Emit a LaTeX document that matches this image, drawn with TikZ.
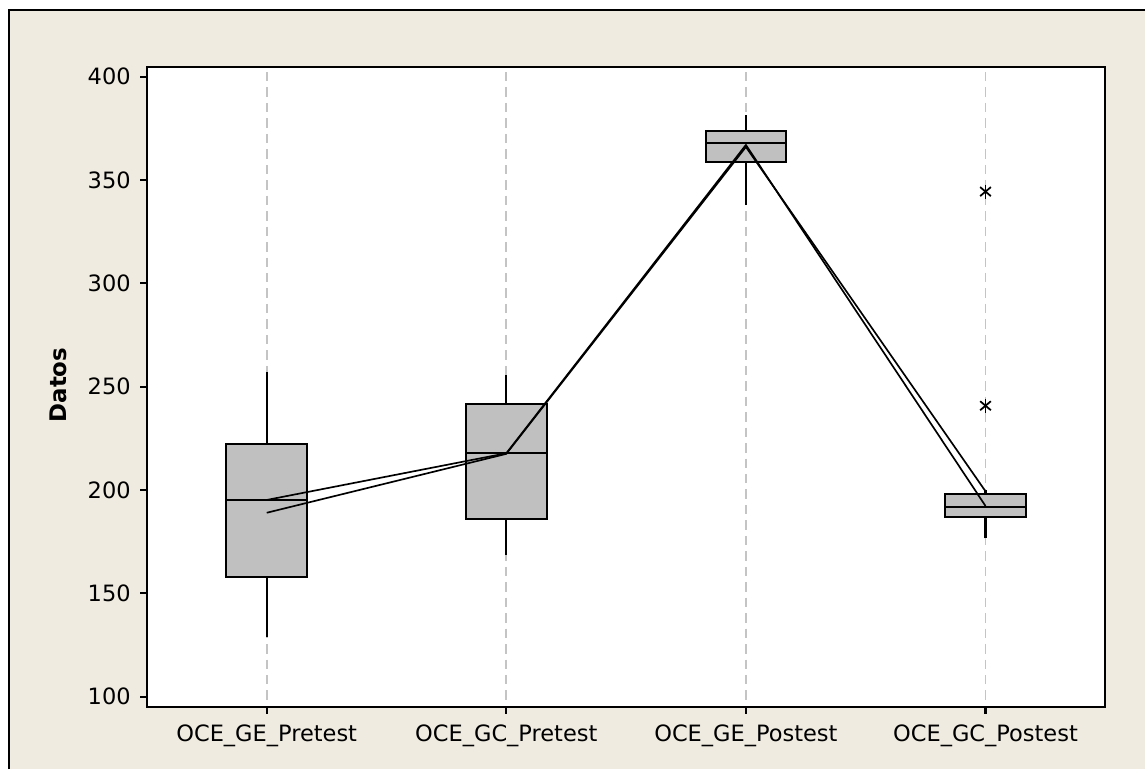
\documentclass[tikz,border=0pt]{standalone}
\usepackage{fontspec}
\setmainfont{DejaVu Sans}
\usepackage{xcolor}
\usepackage{tikz}
\usetikzlibrary{calc}
\definecolor{panel}{HTML}{EFEBE1}
\definecolor{boxgray}{HTML}{C0C0C0}
\definecolor{refgray}{HTML}{C4C4C4}
\tikzset{
  frame/.style={draw=black, line width=1.2pt},
  ref/.style={draw=refgray, line width=1.1pt, dash pattern=on 5.4pt off 3.4pt},
  whisk/.style={draw=black, line width=1.2pt},
  boxq/.style={draw=black, fill=boxgray, line width=1.2pt},
  conn/.style={draw=black, line width=0.95pt, line join=round},
  ticklab/.style={font=\fontsize{12.8}{14}\selectfont, inner sep=0pt},
  axlab/.style={font=\fontsize{13}{15}\selectfont\bfseries, inner sep=0pt},
}

\begin{document}
\begin{tikzpicture}[x=0.02cm, y=0.02cm]
  \useasboundingbox (0,0) rectangle (1145,769);
  \fill[white] (0,0) rectangle (1145,769);
  \fill[panel] (9,0) rectangle (1145,759);
  \draw[frame] (9,0) -- (9,759) -- (1145,759);

  % plot area
  \def\L{147}
  \def\R{1105}
  \def\B{62}
  \def\T{702}
  \def\Ybot{72.3}
  \def\Ysc{2.0667}
  \def\X{266.7}
  \def\dX{239.6}
  \def\hw{40.3}
  \fill[white] (\L,\B) rectangle (\R,\T);

  % boxes: min, Q1, median, Q3, max, median point, mean point
  \foreach \i/\name/\lo/\qa/\md/\qc/\hi/\mc/\av in {
      1/OCE\_GE\_Pretest/129.0/158.1/195.2/222.1/257.1/195.2/189.0,
      2/OCE\_GC\_Pretest/168.6/186.0/217.8/241.5/255.7/217.8/217.5,
      3/OCE\_GE\_Postest/337.9/358.6/367.8/373.9/381.5/367.0/366.0,
      4/OCE\_GC\_Postest/176.6/187.1/191.9/197.9/200.0/192.3/199.4}{
    \pgfmathsetmacro{\x}{\X+(\i-1)*\dX}
    \pgfmathsetmacro{\ylo}{\Ybot+(\lo-100)*\Ysc}
    \pgfmathsetmacro{\yqa}{\Ybot+(\qa-100)*\Ysc}
    \pgfmathsetmacro{\ymd}{\Ybot+(\md-100)*\Ysc}
    \pgfmathsetmacro{\yqc}{\Ybot+(\qc-100)*\Ysc}
    \pgfmathsetmacro{\yhi}{\Ybot+(\hi-100)*\Ysc}
    \draw[ref] (\x,\T-5) -- (\x,\B);
    \draw[frame] (\x,\B) -- (\x,\B-7);
    \node[ticklab, anchor=base] (xlab\i) at (\x,27.3) {\name};
    \draw[whisk] (\x,\ylo) -- (\x,\yhi);
    \draw[boxq] (\x-\hw,\yqa) rectangle (\x+\hw,\yqc);
    \draw[whisk] (\x-\hw,\ymd) -- (\x+\hw,\ymd);
    \coordinate (med\i) at (\x,{\Ybot+(\mc-100)*\Ysc});
    \coordinate (avg\i) at (\x,{\Ybot+(\av-100)*\Ysc});
  }

  % connect lines
  \draw[conn] (med1) -- (med2) -- (med3) -- (med4);
  \draw[conn] (avg1) -- (avg2) -- (avg3) -- (avg4);

  % outliers
  \foreach \v [count=\k] in {344.4,240.8}{
    \coordinate (out\k) at (\X+3*\dX,{\Ybot+(\v-100)*\Ysc});
    \foreach \a in {90,40,140}
      \draw[whisk, line width=1pt] ($(out\k)+(\a:7)$) -- ($(out\k)+(\a+180:7)$);
  }

  \draw[frame] (\L,\B) rectangle (\R,\T);

  % y axis
  \foreach \v in {100,150,...,400}{
    \pgfmathsetmacro{\y}{\Ybot+(\v-100)*\Ysc}
    \draw[frame] (140,\y) -- (\L,\y);
    \node[ticklab, anchor=east] (ylab\v) at (131,\y) {\v};
  }
  \node[axlab, rotate=90] (ytitle) at (58,384) {Datos};
\end{tikzpicture}
\end{document}
